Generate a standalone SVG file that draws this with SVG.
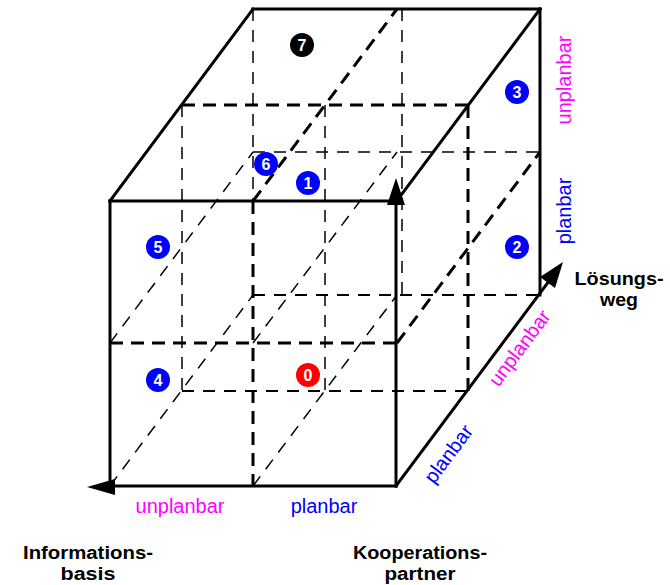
<svg xmlns="http://www.w3.org/2000/svg" width="670" height="585" viewBox="0 0 670 585">
<defs>
<style>
.solid{stroke:#000;stroke-width:3;fill:none;stroke-linecap:square}
.thick{stroke:#000;stroke-width:3;fill:none;stroke-dasharray:13 8}
.thin{stroke:#000;stroke-width:1.5;fill:none;stroke-dasharray:12 9}
.mid{stroke:#000;stroke-width:2;fill:none;stroke-dasharray:12 9}
.lbl{font-family:"Liberation Sans",Arial,sans-serif;font-size:20px}
.bold{font-family:"Liberation Sans",Arial,sans-serif;font-size:18px;font-weight:bold;fill:#000;text-anchor:middle}
.num{font-family:"Liberation Sans",Arial,sans-serif;font-size:16px;font-weight:bold;fill:#fff;text-anchor:middle}
.blue{fill:#0000ff}
.mag{fill:#ff00ff}
</style>
</defs>
<rect width="670" height="585" fill="#fff"/>
<g id="connectors">
<line class="thin" x1="253" y1="9" x2="253" y2="201"/>
<line class="thin" x1="402" y1="9" x2="402" y2="295"/>
<line class="thin" x1="253" y1="152" x2="540" y2="152"/>
<line class="mid" x1="253" y1="295" x2="540" y2="295"/>
<line class="thin" x1="182" y1="105" x2="182" y2="390"/>
<line class="thin" x1="325" y1="105" x2="325" y2="390"/>
<line class="mid" x1="182" y1="391" x2="468" y2="391"/>
<line class="thin" x1="110" y1="343" x2="253" y2="152"/>
<line class="thin" x1="253" y1="343" x2="397" y2="152"/>
<line class="thin" x1="110" y1="486" x2="253" y2="295"/>
<line class="thin" x1="253" y1="486" x2="397" y2="295"/>
<line class="thick" x1="253" y1="201" x2="253" y2="486"/>
<line class="thick" x1="110" y1="343" x2="396" y2="343"/>
<line class="thick" x1="182" y1="105" x2="468" y2="105"/>
<line class="thick" x1="253" y1="201" x2="397" y2="9"/>
<line class="thick" x1="468" y1="105" x2="468" y2="391"/>
<line class="thick" x1="397" y1="343" x2="540" y2="152"/>
<line class="solid" x1="110" y1="201" x2="392" y2="201"/>
<line class="solid" x1="110" y1="201" x2="110" y2="486"/>
<line class="solid" x1="113" y1="486" x2="396" y2="486"/>
<line class="solid" x1="110" y1="201" x2="253" y2="9"/>
<line class="solid" x1="253" y1="9" x2="540" y2="9"/>
<line class="solid" x1="540" y1="9" x2="399" y2="198"/>
<line class="solid" x1="540" y1="9" x2="540" y2="295"/>
<line class="solid" x1="396" y1="486" x2="396" y2="205"/>
<line class="solid" x1="396" y1="486" x2="549" y2="281"/>
<polygon points="87,487 115,479 115,495" fill="#000"/>
<polygon points="396,178 387,205 405,205" fill="#000"/>
<polygon points="563,262 540,277 555,288" fill="#000"/>
</g>
<g id="n7"><circle cx="302" cy="45" r="12" fill="#000"/><text class="num" x="302" y="51">7</text></g>
<g id="n3"><circle cx="517" cy="92" r="12" fill="#0000ff"/><text class="num" x="517" y="98">3</text></g>
<g id="n6"><circle cx="266" cy="164" r="12" fill="#0000ff"/><text class="num" x="266" y="170">6</text></g>
<g id="n1"><circle cx="308" cy="183" r="12" fill="#0000ff"/><text class="num" x="308" y="189">1</text></g>
<g id="n5"><circle cx="158" cy="247" r="12" fill="#0000ff"/><text class="num" x="158" y="253">5</text></g>
<g id="n2"><circle cx="517" cy="247" r="12" fill="#0000ff"/><text class="num" x="517" y="253">2</text></g>
<g id="n4"><circle cx="158" cy="380" r="12" fill="#0000ff"/><text class="num" x="158" y="386">4</text></g>
<g id="n0"><circle cx="308" cy="375" r="12" fill="#ff0000"/><text class="num" x="308" y="381">0</text></g>
<g id="labels">
<text class="lbl mag" x="180" y="513" text-anchor="middle">unplanbar</text>
<text class="lbl blue" x="324" y="513" text-anchor="middle">planbar</text>
<text class="lbl mag" transform="translate(571,80) rotate(-90)" text-anchor="middle">unplanbar</text>
<text class="lbl blue" transform="translate(571,211) rotate(-90)" text-anchor="middle">planbar</text>
<text class="lbl mag" transform="translate(525,352) rotate(-53.3)" text-anchor="middle">unplanbar</text>
<text class="lbl blue" transform="translate(454,458) rotate(-53.3)" text-anchor="middle">planbar</text>
<text class="bold" x="619" y="285" textLength="89" lengthAdjust="spacingAndGlyphs">Lösungs-</text>
<text class="bold" x="619" y="306" textLength="38" lengthAdjust="spacingAndGlyphs">weg</text>
<text class="bold" x="88" y="559" textLength="130" lengthAdjust="spacingAndGlyphs">Informations-</text>
<text class="bold" x="88" y="580" textLength="55" lengthAdjust="spacingAndGlyphs">basis</text>
<text class="bold" x="420" y="559" textLength="134" lengthAdjust="spacingAndGlyphs">Kooperations-</text>
<text class="bold" x="420" y="580" textLength="71" lengthAdjust="spacingAndGlyphs">partner</text>
</g>
</svg>
